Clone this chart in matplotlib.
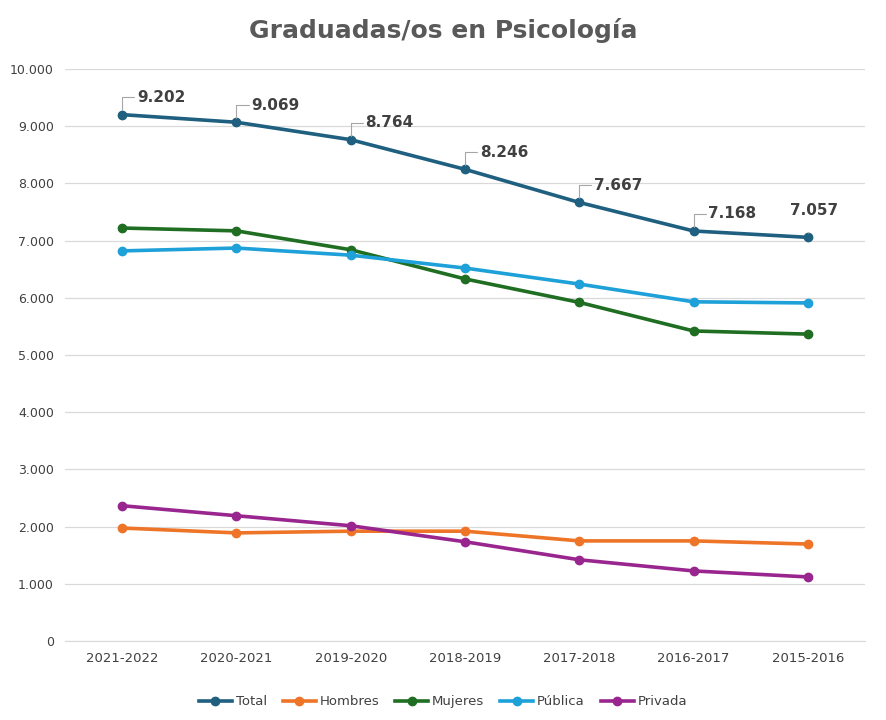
import matplotlib.pyplot as plt

years = ["2021-2022","2020-2021","2019-2020","2018-2019","2017-2018","2016-2017","2015-2016"]
total = [9202, 9069, 8764, 8246, 7667, 7168, 7057]
hombres = [1975, 1890, 1920, 1920, 1750, 1750, 1695]
mujeres = [7220, 7170, 6840, 6330, 5920, 5420, 5365]
publica = [6820, 6870, 6745, 6520, 6240, 5930, 5910]
privada = [2365, 2190, 2015, 1735, 1420, 1225, 1120]

fig = plt.figure(figsize=(8.86, 7.2), dpi=100)
ax = fig.add_axes([65/886, 79/720, 800/886, 572/720])
x = list(range(len(years)))
series = [("Total", total, "#1f5f7f"), ("Hombres", hombres, "#ee7428"),
          ("Mujeres", mujeres, "#1f6e22"), ("Pública", publica, "#1ea0d8"),
          ("Privada", privada, "#99268f")]
for name, vals, c in series:
    ax.plot(x, vals, color=c, lw=2.6, marker='o', ms=6, label=name, zorder=3)

def fmt(v):
    return f"{v:,}".replace(",", ".")

for i, v in enumerate(total):
    if i < len(total) - 1:
        ax.annotate(fmt(v), xy=(i, v), xytext=(i + 0.13, v + 300),
                    fontsize=11, fontweight='bold', color='#404040', va='center',
                    arrowprops=dict(arrowstyle='-', color='#a6a6a6', lw=0.8,
                                    connectionstyle='angle,angleA=0,angleB=90,rad=0',
                                    shrinkA=0, shrinkB=3))
    else:
        ax.annotate(fmt(v), xy=(i, v), xytext=(i + 0.05, v + 470), ha='center',
                    fontsize=11, fontweight='bold', color='#404040', va='center',
                    arrowprops=dict(arrowstyle='-', color='#a6a6a6', lw=0.8, shrinkA=9, shrinkB=3))

ax.set_xlim(-0.5, len(years) - 0.5)
ax.set_ylim(0, 10000)
ax.set_yticks(range(0, 10001, 1000))
ax.set_yticklabels([fmt(v) for v in range(0, 10001, 1000)], fontsize=9, color='#404040')
ax.set_xticks(x)
ax.set_xticklabels(years, fontsize=9.5, color='#404040')
ax.grid(axis='y', color='#d9d9d9', lw=0.9)
ax.set_axisbelow(True)
for s in ['top', 'right', 'left']:
    ax.spines[s].set_visible(False)
ax.spines['bottom'].set_color('#d9d9d9')
ax.tick_params(length=0, pad=8)
fig.suptitle("Graduadas/os en Psicología", y=0.975, fontsize=18, fontweight='semibold', color='#595959')
fig.legend(loc='lower center', ncol=5, frameon=False, fontsize=9.5, bbox_to_anchor=(0.5, 0.0),
           handlelength=2.5, columnspacing=1.2, handletextpad=0.3, labelcolor='#404040')
fig.savefig("out.png", dpi=100)
